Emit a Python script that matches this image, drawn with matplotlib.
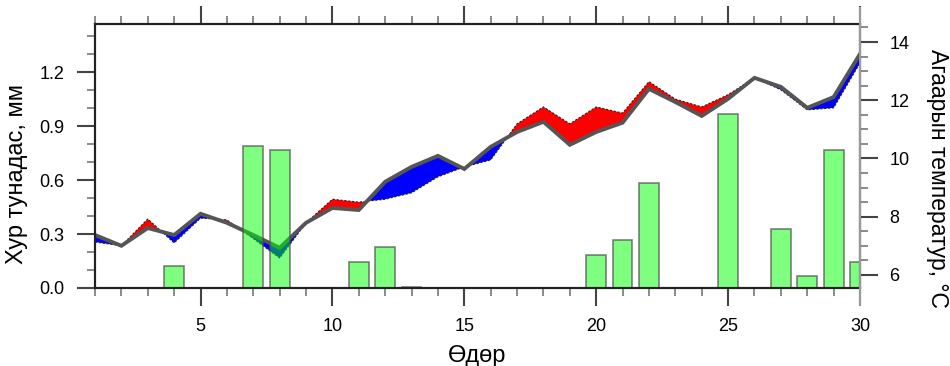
import matplotlib
matplotlib.use("Agg")
import matplotlib.pyplot as plt
from matplotlib.lines import Line2D
from matplotlib.ticker import MultipleLocator, FormatStrFormatter
import numpy as np

plt.rcParams['font.family'] = ['Liberation Sans', 'DejaVu Sans']

days = list(range(1, 31))
temp = [7.37, 7.00, 7.61, 7.37, 8.10, 7.79, 7.37, 6.93, 7.79, 8.30,
        8.23, 9.20, 9.71, 10.09, 9.64, 10.40, 10.91, 11.26, 10.47, 10.91,
        11.23, 12.39, 11.94, 11.46, 12.05, 12.77, 12.46, 11.74, 12.11, 13.59]
temp2 = [7.13, 7.00, 7.92, 7.10, 7.95, 7.89, 7.25, 6.58, 7.79, 8.60,
         8.50, 8.60, 8.82, 9.37, 9.71, 9.95, 11.19, 11.77, 11.19, 11.77,
         11.56, 12.64, 12.04, 11.77, 12.19, 12.77, 12.36, 11.67, 11.74, 13.28]
precip = [0, 0, 0, 0.125, 0, 0, 0.789, 0.767, 0, 0,
          0.144, 0.228, 0.005, 0, 0, 0, 0, 0, 0, 0.183,
          0.267, 0.583, 0, 0, 0.967, 0, 0.328, 0.067, 0.767, 0.144]

x_label = "Өдөр"
left_label = "Хур тунадас, мм"
right_label = "Агаарын температур, °C"

fig = plt.figure(figsize=(9.5, 3.66), dpi=100)
ax = fig.add_axes([95/950, 78/366, 765/950, 264/366])
x = np.array(days, dtype=float)
t1 = np.array(temp)
t2 = np.array(temp2)
ax.fill_between(x, t1, t2, where=t2 >= t1, interpolate=True, color='#ff0000', lw=0)
ax.fill_between(x, t1, t2, where=t2 <= t1, interpolate=True, color='#0000ff', lw=0)
ax.plot(x, t2, color='#222222', lw=0.8, ls=(0, (2, 1.5)))
ax.plot(x, t1, color='#555555', lw=2.8, solid_joinstyle='miter')
ax.set_xlim(1, 30)
ax.set_ylim(5.55, 14.62)

axp = ax.twinx()
axp.bar(x, precip, width=0.75, color=(0, 1, 0, 0.5), edgecolor=(0.3, 0.3, 0.3, 0.7), lw=1.2)
axp.set_ylim(0, 1.467)
axp.set_xlim(1, 30)

ax.yaxis.tick_right()
ax.yaxis.set_label_position('right')
ax.yaxis.set_major_locator(MultipleLocator(2))
ax.yaxis.set_minor_locator(MultipleLocator(0.5))
ax.xaxis.set_major_locator(MultipleLocator(5))
ax.xaxis.set_minor_locator(MultipleLocator(1))
ax.set_xlabel(x_label, fontsize=17, labelpad=7)
ax.set_ylabel(right_label, fontsize=16.5, rotation=270, va='center', ha='center')
ax.yaxis.set_label_coords((938 - 95) / 765, (288 - 178) / 264)

axp.yaxis.tick_left()
axp.yaxis.set_label_position('left')
axp.yaxis.set_major_locator(MultipleLocator(0.3))
axp.yaxis.set_minor_locator(MultipleLocator(0.1))
axp.yaxis.set_major_formatter(FormatStrFormatter('%.1f'))
axp.set_ylabel(left_label, fontsize=17, va='center', ha='center')
axp.yaxis.set_label_coords((17 - 95) / 765, (288 - 174) / 264)

for a in (ax, axp):
    for s in a.spines.values():
        s.set_linewidth(1.5)
        s.set_color('#222222')
    a.tick_params(which='major', length=13, width=1.5, color='#444444', labelsize=13)
    a.tick_params(which='minor', length=6, width=1.2, color='#777777')
ax.tick_params(axis='x', which='both', top=True, bottom=True, direction='out', pad=8.5)
ax.tick_params(axis='y', which='both', left=False, right=True, labelleft=False, labelright=True, pad=8)
axp.tick_params(axis='y', which='both', left=True, right=False, labelleft=True, labelright=False, pad=9)
axp.tick_params(axis='x', which='both', top=False, bottom=False, labelbottom=False)

fig.add_artist(Line2D([860/950, 860/950], [1 - 8/366, 1 - 305/366], color='#999999', lw=1.5, transform=fig.transFigure))

fig.savefig('out.png', dpi=100)
